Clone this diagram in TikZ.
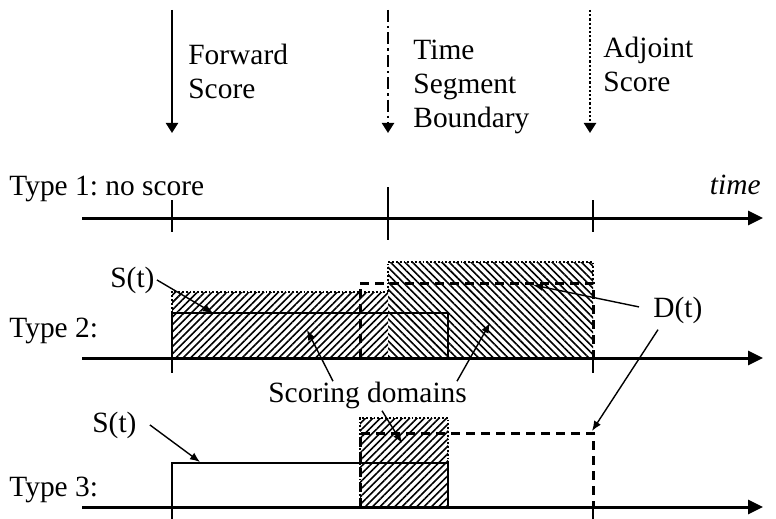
\documentclass[tikz,border=0pt]{standalone}
\usepackage{fontspec}
\setmainfont{Liberation Serif}
\usetikzlibrary{arrows.meta,patterns.meta,calc}
\frenchspacing

\begin{document}
\begin{tikzpicture}[x=0.5pt,y=-0.5pt,
        lbl/.style={font=\fontsize{14.7}{16.8}\selectfont, inner sep=0pt},
        axis/.style={line width=1.5pt, -{Triangle[length=7.5pt,width=7pt]}},
        tick/.style={line width=1pt},
        marker/.style={line width=1.1pt, -{Triangle[length=5pt,width=6pt]}},
        note/.style={line width=0.7pt, -{Latex[length=5pt,width=4pt]}},
        fwdhatch/.style={pattern={Lines[angle=45,distance=2.6pt,line width=0.8pt]}},
        adjhatch/.style={pattern={Lines[angle=-45,distance=2.6pt,line width=0.8pt]}},
        hatchedge/.style={line width=0.9pt, densely dotted},
        sline/.style={line width=1.1pt},
        dline/.style={line width=1.5pt, dash pattern=on 4.5pt off 3pt}]
                %\draw[help lines] (0,0) grid (776,519);
                \useasboundingbox (0,0) rectangle (776,519);
                % markers on top
                \coordinate (fwdtop) at (172,10);
                \coordinate (fwdend) at (172,133);
                \coordinate (segtop) at (388,10);
                \coordinate (segend) at (388,133);
                \coordinate (adjtop) at (590,10);
                \coordinate (adjend) at (590,133);
                \draw[marker] (fwdtop) -- (fwdend);
                \draw[marker, dash pattern=on 6pt off 2pt on 1.2pt off 2pt] (segtop) -- (segend);
                \draw[marker, densely dotted] (adjtop) -- (adjend);
                \node[lbl, anchor=north west, align=left] (fwdlbl) at (188,44) {Forward\\Score};
                \node[lbl, anchor=north west, align=left] (seglbl) at (413,40) {Time\\Segment\\Boundary};
                \node[lbl, anchor=north west, align=left] (adjlbl) at (603,37) {Adjoint\\Score};
                % type 1
                \node[lbl, anchor=base west] (type1) at (9,195) {Type 1: no score};
                \node[lbl, anchor=base east] (timelbl) at (761,194) {\itshape time};
                \coordinate (axa) at (82,218);
                \coordinate (axb) at (763,218);
                \draw[axis] (axa) -- (axb);
                \foreach \t in {172,593} \draw[tick] (\t,200) -- (\t,232);
                \draw[tick] (388,187) -- (388,240);
                % type 2
                \fill[fwdhatch] (172,292) rectangle (388,358);
                \fill[adjhatch] (388,262) rectangle (593,358);
                \draw[hatchedge] (172,358) -- (172,292) -- (388,292);
                \draw[hatchedge] (388,292) -- (388,262) -- (593,262) -- (593,283);
                \draw[sline] (172,358) rectangle (448,313);
                \draw[dline] (360,358) -- (360,283) -- (593,283) -- (593,358);
                \node[lbl, anchor=base west] (type2) at (9,337) {Type 2:};
                \coordinate (axc) at (82,358);
                \coordinate (axd) at (763,358);
                \draw[axis] (axc) -- (axd);
                \foreach \t in {172,593} \draw[tick] (\t,358) -- (\t,373);
                % type 3
                \fill[fwdhatch] (360,418) rectangle (448,507);
                \draw[hatchedge] (360,507) -- (360,418) -- (448,418) -- (448,463);
                \draw[sline] (172,507) -- (172,463) -- (448,463) -- (448,507);
                \draw[dline] (360,507) -- (360,433) -- (593,433) -- (593,507);
                \node[lbl, anchor=base west] (type3) at (9,496) {Type 3:};
                \coordinate (axe) at (82,507);
                \coordinate (axf) at (763,507);
                \draw[axis] (axe) -- (axf);
                \foreach \t in {172,593} \draw[tick] (\t,507) -- (\t,519);
                % labels and pointers
                \node[lbl, anchor=base west] (st2) at (110,287) {S(t)};
                \node[lbl, anchor=base west] (st3) at (92,432) {S(t)};
                \node[lbl, anchor=base west] (dt) at (653,317) {D(t)};
                \node[lbl, anchor=base west] (sd) at (268,402) {Scoring domains};
                \coordinate (st2tip) at (213,313);
                \coordinate (st3tip) at (200,462);
                \coordinate (dt2tip) at (533,285);
                \coordinate (dt3tip) at (592,431);
                \coordinate (sdtipa) at (307,330);
                \coordinate (sdtipb) at (490,323);
                \coordinate (sdtipc) at (402,443);
                \draw[note] ($(st2.east)+(2,0)$) -- (st2tip);
                \draw[note] ($(st3.east)+(13,0)$) -- (st3tip);
                \draw[note] ($(dt.west)+(-14,-3)$) -- (dt2tip);
                \draw[note] ($(dt.south west)+(5,6)$) -- (dt3tip);
                \draw[note] ($(sd.north west)+(65,0)$) -- (sdtipa);
                \draw[note] ($(sd.north west)+(189,0)$) -- (sdtipb);
                \draw[note] ($(sd.south west)+(114,2)$) -- (sdtipc);
            \end{tikzpicture}
\end{document}
